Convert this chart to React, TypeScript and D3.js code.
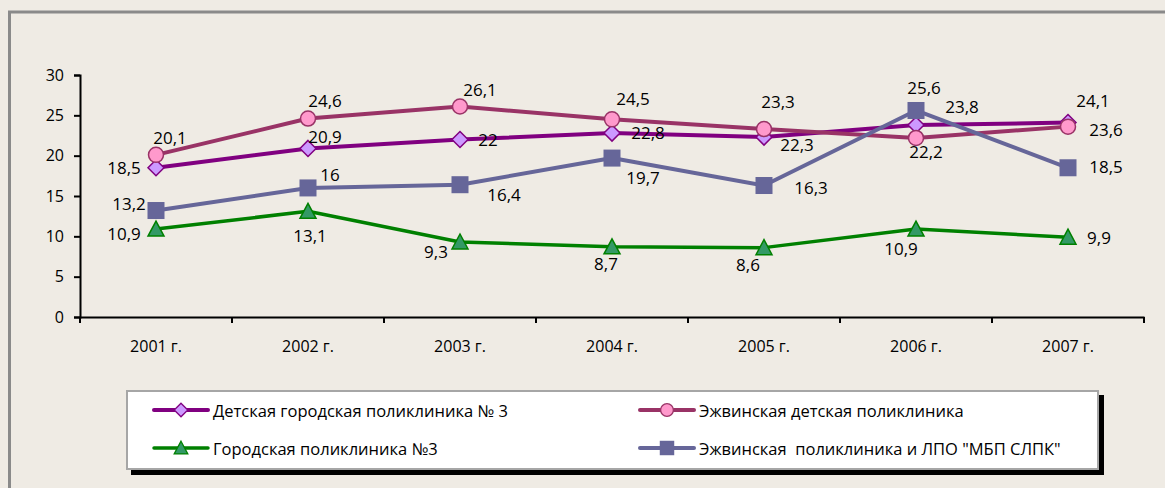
import React, { useEffect, useRef } from 'react';
import * as d3 from 'd3';

// chart data
const years = ['2001 г.', '2002 г.', '2003 г.', '2004 г.', '2005 г.', '2006 г.', '2007 г.'];
const yTicks = [0, 5, 10, 15, 20, 25, 30];

const seriesNames = [
  'Детская городская поликлиника № 3',
  'Эжвинская детская поликлиника',
  'Городская поликлиника №3',
  'Эжвинская  поликлиника и ЛПО "МБП СЛПК"',
];

const detskayaGorodskaya = [18.5, 20.9, 22, 22.8, 22.3, 23.8, 24.1];
const ezhvaDetskaya = [20.1, 24.6, 26.1, 24.5, 23.3, 22.2, 23.6];
const gorodskaya = [10.9, 13.1, 9.3, 8.7, 8.6, 10.9, 9.9];
const ezhvaPoliklinika = [13.2, 16, 16.4, 19.7, 16.3, 25.6, 18.5];

// where Excel put each data label, relative to the marker
const labelShift: [number, number][][] = [
  [[-32, 0], [17, -12], [28, 0], [36, -1], [33, 7], [46, -19], [25, -22]],
  [[14, -17], [17, -18], [20, -17], [21, -21], [14, -28], [10, 14], [38, 3]],
  [[-32, 4], [2, 24], [-24, 10], [-6, 17], [-16, 17], [-15, 19], [31, 0]],
  [[-27, -7], [22, -13], [44, 10], [31, 19], [47, 2], [8, -23], [38, -1]],
];

const FONT = '"Open Sans", "Noto Sans", sans-serif';

const App = () => {
  const svgRef = useRef<SVGSVGElement | null>(null);

  useEffect(() => {
    const svg = d3.select(svgRef.current);
    svg.selectAll('*').remove();

    const width = 1165;
    const height = 488;
    const margin = { top: 75, left: 80 };
    const chartWidth = 1064;
    const chartHeight = 242;

    svg.attr('width', width).attr('height', height);

    // background + outer frame
    svg.append('rect').attr('width', width).attr('height', height).attr('fill', '#efebe4');
    svg.append('rect')
      .attr('x', 9.5).attr('y', 12)
      .attr('width', 1200).attr('height', 600)
      .attr('fill', 'none')
      .attr('stroke', '#8a8a8a')
      .attr('stroke-width', 3);

    const g = svg.append('g').attr('transform', `translate(${margin.left},${margin.top})`);

    const x = d3.scaleBand().domain(years).range([0, chartWidth]);
    const y = d3.scaleLinear().domain([0, 30]).range([chartHeight, 0]);
    const cx = (i: number) => (x(years[i]) as number) + x.bandwidth() / 2;

    // axes
    const yAxis = d3.axisLeft(y).tickValues(yTicks).tickSize(6).tickPadding(10).tickFormat(d3.format('d'));
    const ya = g.append('g').call(yAxis);
    ya.select('.domain').attr('stroke', '#000').attr('stroke-width', 2);
    ya.selectAll('.tick line').attr('stroke-width', 2);
    ya.selectAll('text').style('font-family', FONT).style('font-size', '16px').attr('fill', '#000');

    const xAxis = d3.axisBottom(x).tickSize(0).tickPadding(24);
    const xa = g.append('g').attr('transform', `translate(0,${chartHeight})`).call(xAxis);
    xa.select('.domain').attr('stroke', '#000').attr('stroke-width', 2);
    xa.selectAll('text').style('font-family', FONT).style('font-size', '16px').attr('fill', '#000');
    // tick marks at category boundaries
    xa.selectAll('.bound')
      .data(d3.range(years.length + 1))
      .enter()
      .append('line')
      .attr('x1', (d) => d * x.bandwidth())
      .attr('x2', (d) => d * x.bandwidth())
      .attr('y1', 0)
      .attr('y2', 6)
      .attr('stroke', '#000')
      .attr('stroke-width', 2);

    const series = [
      { values: detskayaGorodskaya, line: '#800080', fill: '#cc99ff', stroke: '#800080', marker: 'diamond', lw: 4 },
      { values: ezhvaDetskaya, line: '#993366', fill: '#ff99cc', stroke: '#993366', marker: 'circle', lw: 4 },
      { values: gorodskaya, line: '#008000', fill: '#339966', stroke: '#008000', marker: 'triangle', lw: 3.5 },
      { values: ezhvaPoliklinika, line: '#666699', fill: '#666699', stroke: '#666699', marker: 'square', lw: 4 },
    ];

    const drawMarker = (sel: any, kind: string, fill: string, stroke: string) => {
      if (kind === 'diamond') {
        sel.append('path').attr('d', 'M0,-8L8,0L0,8L-8,0Z').attr('fill', fill).attr('stroke', stroke).attr('stroke-width', 1.5);
      } else if (kind === 'circle') {
        sel.append('circle').attr('r', 7.5).attr('fill', fill).attr('stroke', stroke).attr('stroke-width', 1.5);
      } else if (kind === 'triangle') {
        sel.append('path').attr('d', 'M0,-8L8,7L-8,7Z').attr('fill', fill).attr('stroke', stroke).attr('stroke-width', 1.5);
      } else {
        sel.append('rect').attr('x', -8.5).attr('y', -8.5).attr('width', 17).attr('height', 17).attr('fill', fill);
      }
    };

    const line = d3.line<number>().x((_, i) => cx(i)).y((d) => y(d));

    series.forEach((s) => {
      g.append('path')
        .datum(s.values)
        .attr('d', line)
        .attr('fill', 'none')
        .attr('stroke', s.line)
        .attr('stroke-width', s.lw)
        .attr('stroke-linejoin', 'round');
      s.values.forEach((v, i) => {
        const m = g.append('g').attr('transform', `translate(${cx(i)},${y(v)})`);
        drawMarker(m, s.marker, s.fill, s.stroke);
      });
    });

    // data labels on top
    series.forEach((s, si) => {
      g.selectAll(`.lbl-${si}`)
        .data(s.values)
        .enter()
        .append('text')
        .attr('x', (d, i) => cx(i) + labelShift[si][i][0])
        .attr('y', (d, i) => y(d) + labelShift[si][i][1])
        .attr('text-anchor', 'middle')
        .attr('dominant-baseline', 'central')
        .style('font-family', FONT)
        .style('font-size', '17px')
        .attr('fill', '#000')
        .text((d) => String(d).replace('.', ','));
    });

    // legend
    const lg = svg.append('g');
    lg.append('rect').attr('x', 131).attr('y', 395).attr('width', 973).attr('height', 80).attr('fill', '#000');
    lg.append('rect')
      .attr('x', 127).attr('y', 391).attr('width', 971).attr('height', 78)
      .attr('fill', '#fff').attr('stroke', '#a6a6a6').attr('stroke-width', 2);

    const legendPos = [
      [154, 410],
      [640, 410],
      [154, 448],
      [640, 448],
    ];
    series.forEach((s, i) => {
      const [lx, ly] = legendPos[i];
      const item = lg.append('g').attr('transform', `translate(${lx},${ly})`);
      item.append('line').attr('x1', 0).attr('x2', 54).attr('y1', 0).attr('y2', 0)
        .attr('stroke', s.line).attr('stroke-width', s.lw).attr('stroke-linecap', 'round');
      const m = item.append('g').attr('transform', 'translate(27,0) scale(0.85)');
      drawMarker(m, s.marker, s.fill, s.stroke);
      item.append('text')
        .attr('x', 59)
        .attr('y', 0)
        .attr('dominant-baseline', 'central')
        .style('font-family', FONT)
        .style('font-size', '16.5px')
        .style('white-space', 'pre')
        .attr('fill', '#000')
        .text(seriesNames[i]);
    });
  }, []);

  return <svg ref={svgRef} style={{ position: 'absolute', left: 0, top: 0, display: 'block' }}></svg>;
};

export default App;
